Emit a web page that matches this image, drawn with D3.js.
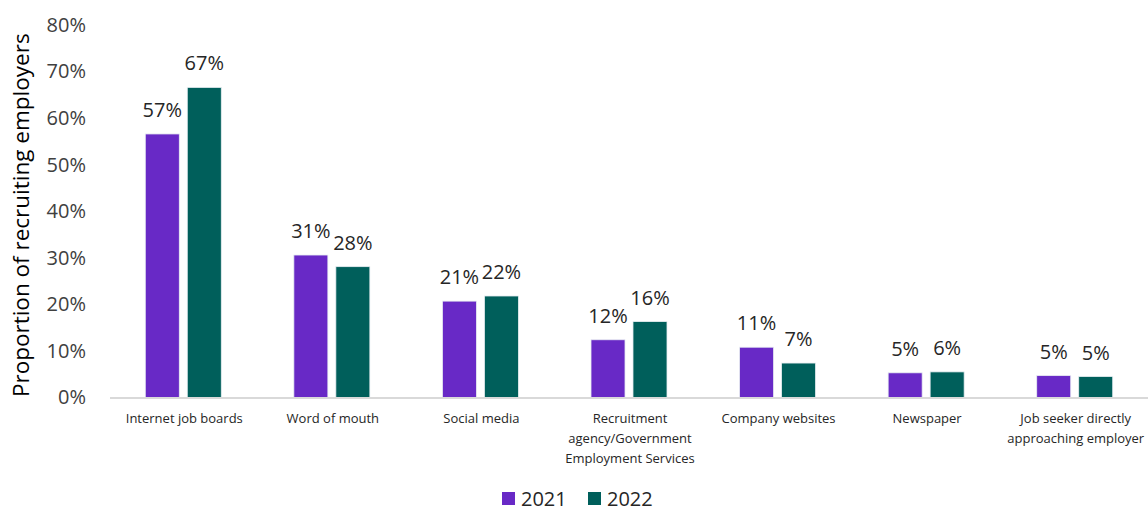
<!DOCTYPE html>
<html><head><meta charset="utf-8">
<script src="https://cdn.jsdelivr.net/npm/d3@7"></script>
<style>body{margin:0;background:#fff;}svg{display:block;font-family:"Open Sans",sans-serif;}</style>
</head><body>
<svg id="c" width="1148" height="513"></svg>
<script>
const categories = [
  ["Internet job boards"],
  ["Word of mouth"],
  ["Social media"],
  ["Recruitment", "agency/Government", "Employment Services"],
  ["Company websites"],
  ["Newspaper"],
  ["Job seeker directly", "approaching employer"]
];
const seriesNames = ["2021", "2022"];
const values2021 = [56.6, 30.6, 20.7, 12.4, 10.8, 5.3, 4.7];
const values2022 = [66.6, 28.1, 21.8, 16.3, 7.4, 5.5, 4.5];
const yTicks = [0, 10, 20, 30, 40, 50, 60, 70, 80];
const colors = ["#6829C6", "#005F5B"];

(function(){
const svg = d3.select("#c");
const mLeft = 110, mRight = 1150, mTop = 25, mBottom = 397.5;
const catKeys = categories.map(d => d.join(" "));
const x0 = d3.scaleBand().domain(catKeys).range([mLeft, mRight]).padding(0);
const x1 = d3.scaleBand().domain(seriesNames)
  .range([x0.bandwidth()/2 - 39, x0.bandwidth()/2 + 37]).paddingInner(0.19).paddingOuter(0);
const y = d3.scaleLinear().domain([0, 80]).range([mBottom, mTop]);

const yAxis = d3.axisLeft(y).tickValues(yTicks).tickFormat(d => d + "%").tickSize(0).tickPadding(0);
const ga = svg.append("g").attr("transform", "translate(86,0)").call(yAxis);
ga.select(".domain").remove();
ga.selectAll("text").attr("font-size", 20).attr("fill", "#404040").attr("font-family", "Open Sans");

svg.append("text").attr("transform", `translate(29,${(mTop+mBottom)/2+4}) rotate(-90)`)
  .attr("text-anchor", "middle").attr("font-size", 22.5).attr("fill", "#000")
  .text("Proportion of recruiting employers");

const series = [values2021, values2022];
const groups = svg.append("g");
catKeys.forEach((k, i) => {
  const g = groups.append("g").attr("transform", `translate(${x0(k)},0)`);
  seriesNames.forEach((s, j) => {
    const v = series[j][i];
    g.append("rect").attr("x", x1(s)).attr("width", x1.bandwidth())
      .attr("y", y(v)).attr("height", y(0) - y(v))
      .attr("fill", colors[j]).attr("stroke", "#e8eef2").attr("stroke-width", 0.8);
    g.append("text").attr("x", x1(s) + x1.bandwidth()/2).attr("y", y(v) - 17)
      .attr("text-anchor", "middle").attr("font-size", 20).attr("fill", "#262626")
      .text(Math.round(v) + "%");
  });
});

svg.append("line").attr("x1", mLeft).attr("x2", mRight).attr("y1", y(0)+0.5).attr("y2", y(0)+0.5)
  .attr("stroke", "#d9d9d9").attr("stroke-width", 2);

const xAxis = d3.axisBottom(x0).tickSize(0).tickFormat("");
const gx = svg.append("g").attr("transform", `translate(0,${mBottom})`).call(xAxis);
gx.select(".domain").remove();
categories.forEach((lines, i) => {
  const cx = x0(catKeys[i]) + x0.bandwidth()/2;
  const t = svg.append("text").attr("text-anchor", "middle").attr("font-size", 13).attr("fill", "#262626")
    .attr("x", cx).attr("y", 423);
  lines.forEach((l, li) => t.append("tspan").attr("x", cx).attr("dy", li ? 20 : 0).text(l));
});

const legendX = [502, 588];
seriesNames.forEach((s, j) => {
  svg.append("rect").attr("x", legendX[j]).attr("y", 492).attr("width", 13).attr("height", 13).attr("fill", colors[j]);
  svg.append("text").attr("x", legendX[j] + 19).attr("y", 506).attr("font-size", 20).attr("fill", "#262626").text(s);
});
})();
</script>
</body></html>
